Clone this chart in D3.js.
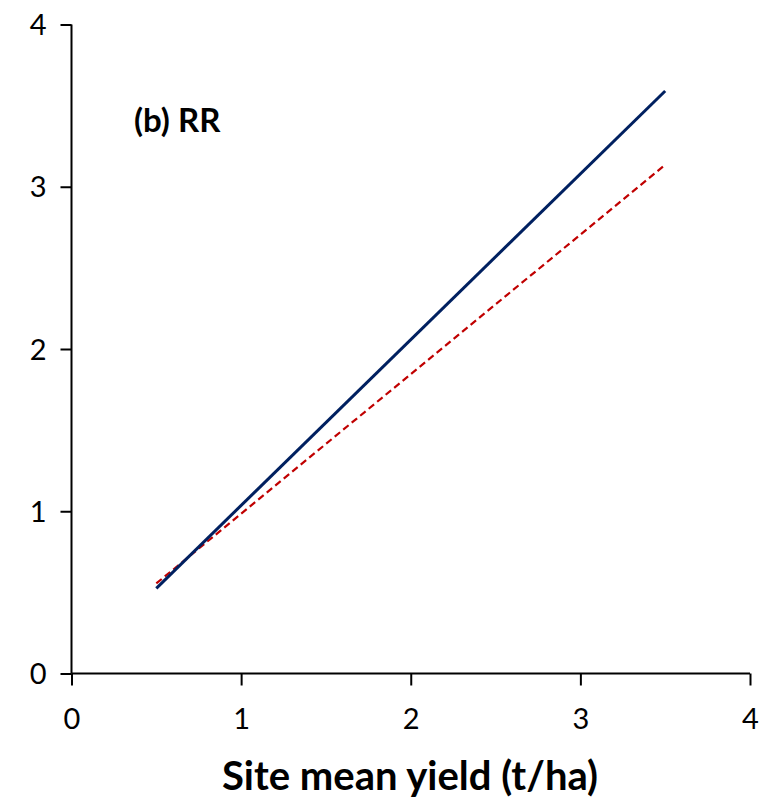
<!DOCTYPE html>
<html><head><meta charset="utf-8">
<script src="https://cdn.jsdelivr.net/npm/d3@7"></script>
<style>body{margin:0;background:#fff}</style>
</head><body>
<svg id="c" width="760" height="799"></svg>
<script>
const xTicks = [0, 1, 2, 3, 4];
const yTicks = [0, 1, 2, 3, 4];
const seriesNames = ["solid", "dashed"];
const solidLine = [[0.5, 0.525], [3.5, 3.59]];
const dashedLine = [[0.5, 0.555], [3.5, 3.135]];
const panelLabel = "(b) RR";
const xTitle = "Site mean yield (t/ha)";

const svg = d3.select("#c");
const x = d3.scaleLinear().domain([0, 4]).range([71.5, 750]);
const y = d3.scaleLinear().domain([0, 4]).range([673.5, 24.5]);
const font = "Lato, 'Open Sans', sans-serif";

const xa = svg.append("g").attr("transform", "translate(0,673.5)")
  .call(d3.axisBottom(x).tickValues(xTicks).tickSize(12).tickPadding(16).tickFormat(d3.format("d")));
const ya = svg.append("g").attr("transform", "translate(71.5,0)")
  .call(d3.axisLeft(y).tickValues(yTicks).tickSize(11).tickPadding(14).tickFormat(d3.format("d")));
[xa, ya].forEach(a => {
  a.selectAll("path").attr("stroke", "#000").attr("stroke-width", 2);
  a.selectAll("line").attr("stroke", "#000").attr("stroke-width", 2);
  a.selectAll("text").attr("fill", "#000").style("font-family", font).style("font-size", "29px");
});
xa.select("path").attr("d", `M${x(0)},0H${x(4)}`);
ya.select("path").attr("d", `M0,${y(0)}V${y(4)}`);
xa.selectAll("text").attr("dy", "0.95em");
ya.selectAll("text").attr("dy", "0.35em");

const line = d3.line().x(d => x(d[0])).y(d => y(d[1]));
svg.append("path").datum(dashedLine).attr("d", line).attr("fill", "none")
  .attr("stroke", "#C00000").attr("stroke-width", 2.2).attr("stroke-dasharray", "7,4");
svg.append("path").datum(solidLine).attr("d", line).attr("fill", "none")
  .attr("stroke", "#002060").attr("stroke-width", 3);

svg.append("text").attr("x", 134).attr("y", 132).text(panelLabel)
  .style("font-family", font).style("font-weight", "bold").style("font-size", "33px");
svg.append("text").attr("x", 410).attr("y", 790).attr("text-anchor", "middle").text(xTitle)
  .style("font-family", font).style("font-weight", "bold").style("font-size", "40px");
</script>
</body></html>
